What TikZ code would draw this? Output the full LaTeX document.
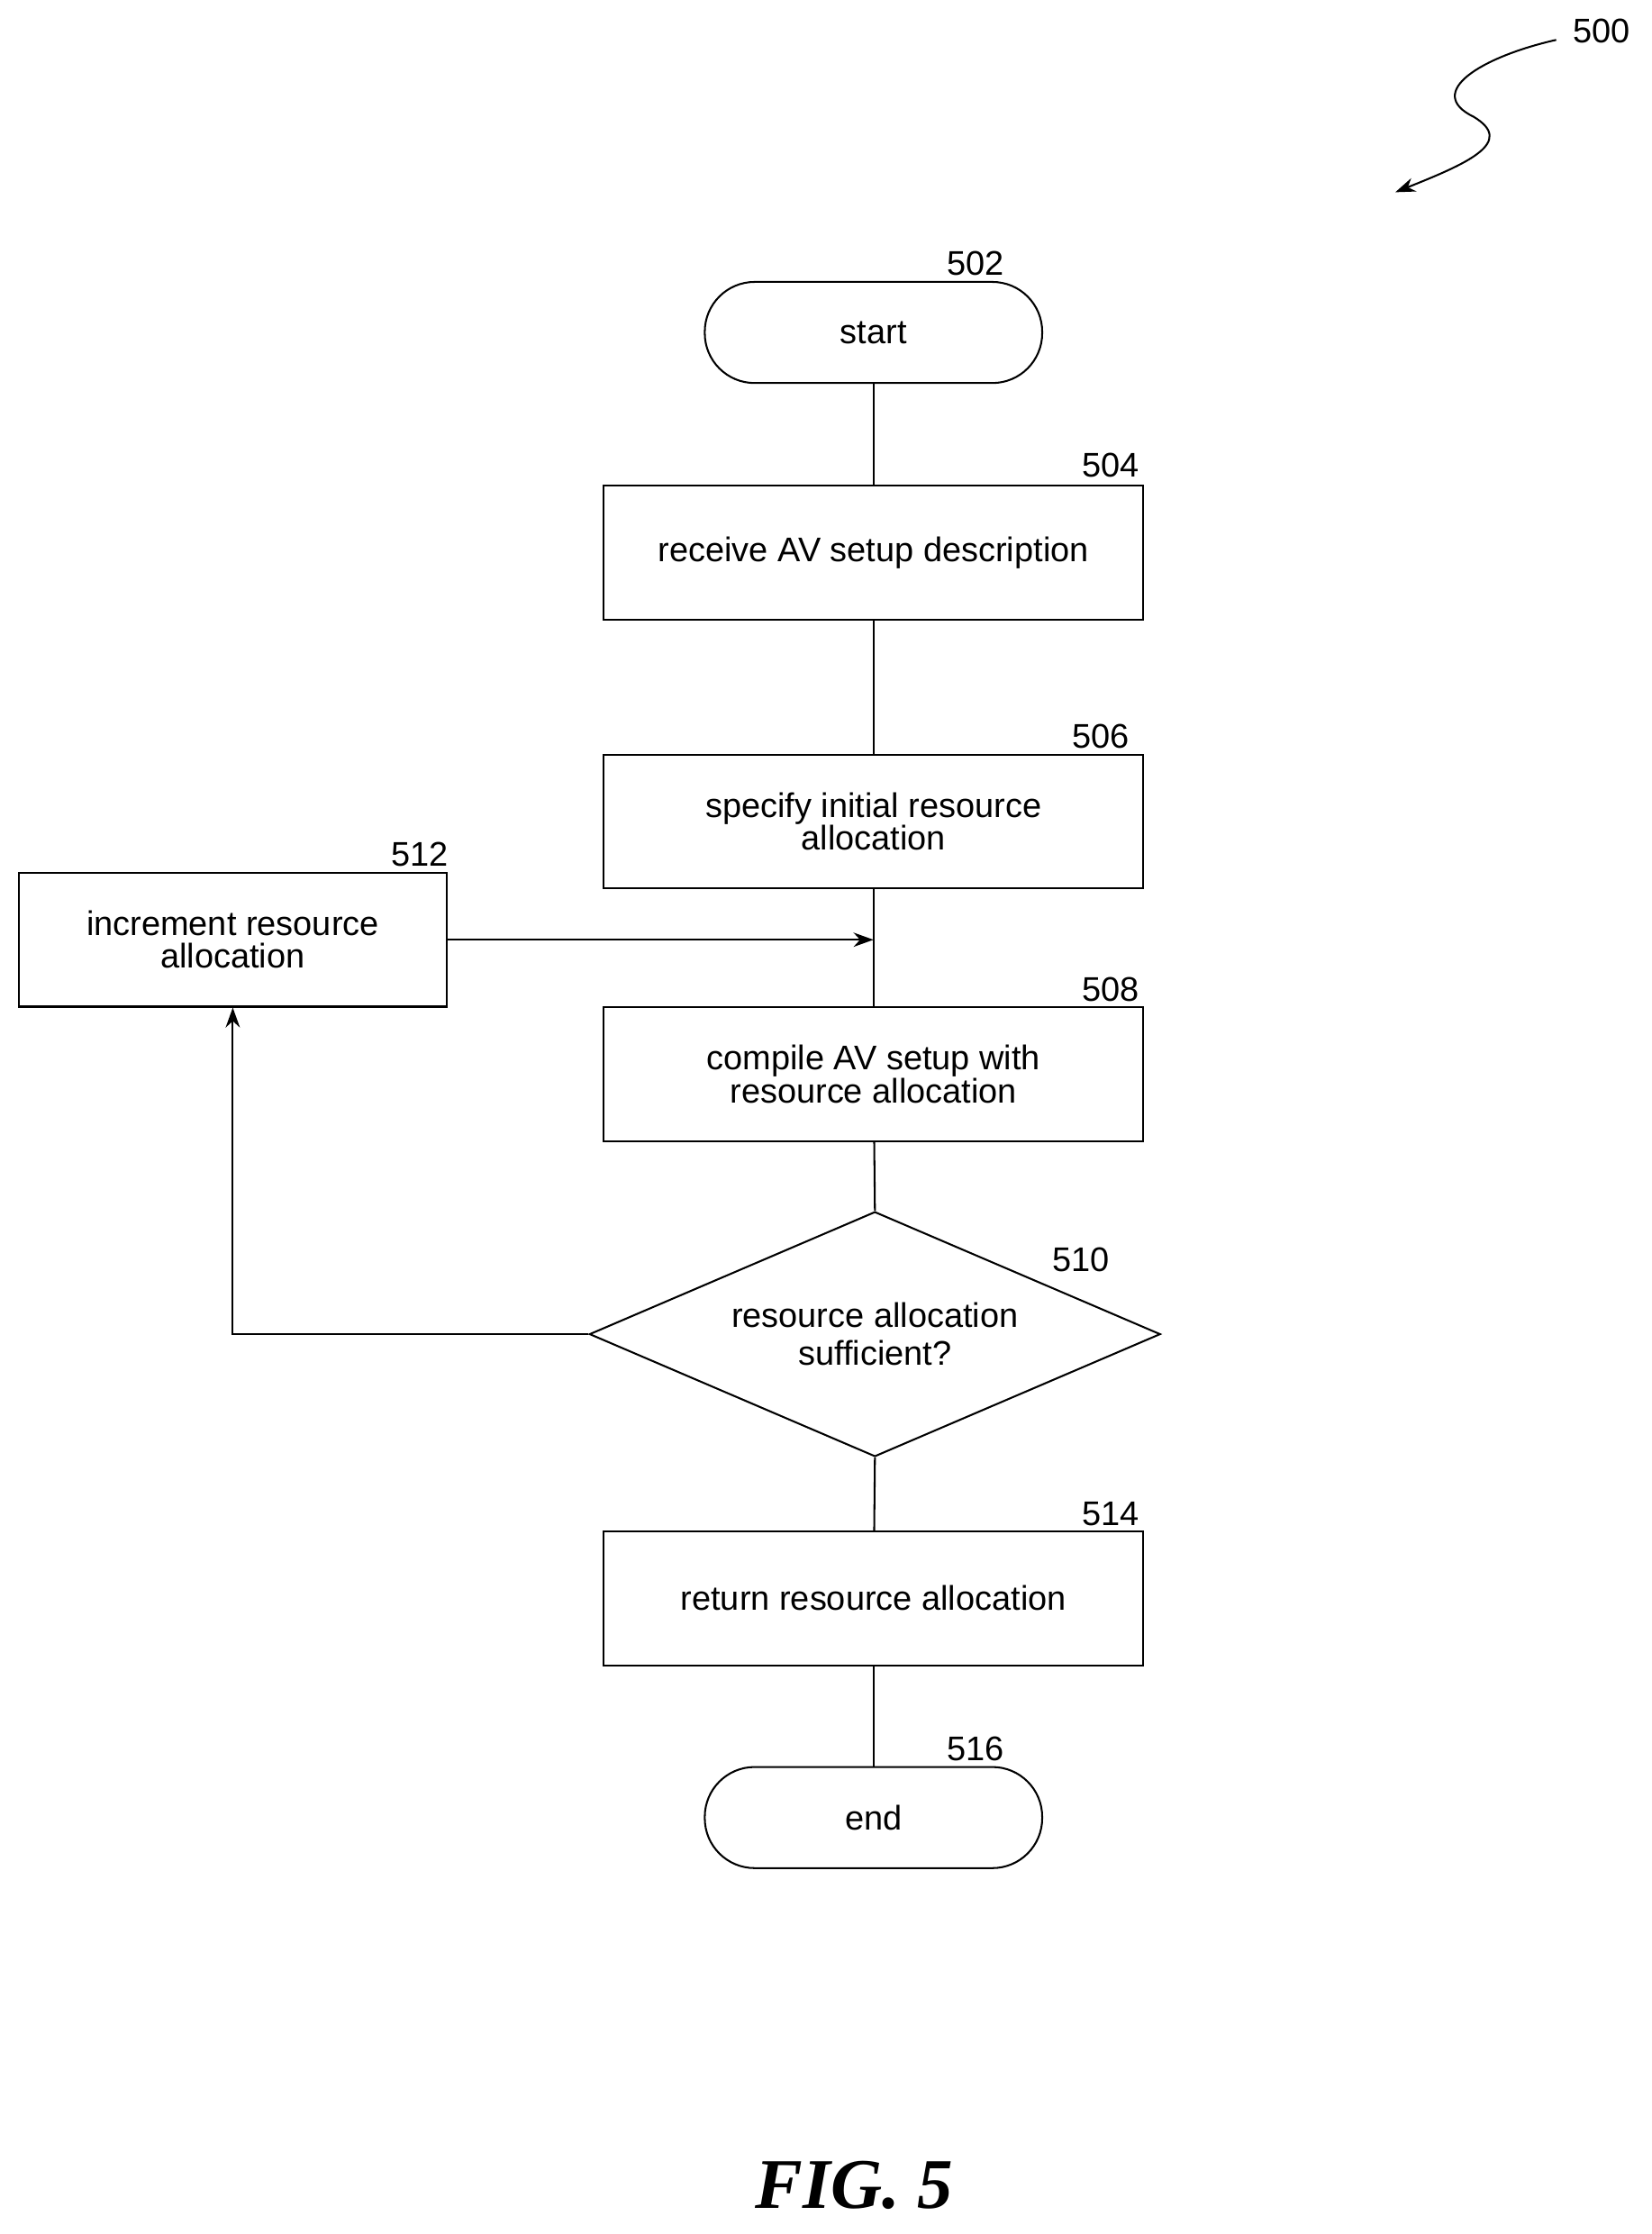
\documentclass[tikz,border=0pt]{standalone}
\usepackage{fontspec}
\setmainfont{Liberation Sans}
\newfontfamily\figfont{Liberation Serif}
\usetikzlibrary{shapes.geometric,arrows.meta}
\begin{document}
\begin{tikzpicture}[x=1pt,y=-1pt,
  every node/.style={font=\fontsize{24}{27}\selectfont},
  box/.style={draw,line width=1.3pt,minimum width=379pt,minimum height=94pt,align=center,inner sep=0pt},
  pill/.style={draw,line width=1.3pt,rounded corners=35pt,minimum width=237pt,minimum height=71pt},
  lbl/.style={font=\fontsize{24}{27}\selectfont},
  line/.style={line width=1.3pt},
  arr/.style={line width=1.3pt,-{Stealth[length=14pt,width=10pt]}}]
\useasboundingbox (0,0) rectangle (1160,1569);
\node[pill] (start) at (613.5,233.5) {start};
\node[box] (b504) at (613.5,388) {receive AV setup description};
\node[box] (b506) at (613.5,577) {specify initial resource\\[-4pt]allocation};
\node[box] (b508) at (613.5,754.5) {compile AV setup with\\[-4pt]resource allocation};
\node[box,minimum width=301pt] (b512) at (163.5,660) {increment resource\\[-4pt]allocation};
\node[draw,line width=1.3pt,diamond,minimum width=401pt,minimum height=172pt,inner sep=0pt,align=center,aspect=2.33] (d510) at (614.5,937) {resource allocation\\sufficient?};
\node[box] (b514) at (613.5,1122.5) {return resource allocation};
\node[pill] (end) at (613.5,1276.5) {end};
\node[lbl] (l502) at (685,185) {502};
\node[lbl] (l504) at (780,327) {504};
\node[lbl] (l506) at (773,517) {506};
\node[lbl] (l508) at (780,695) {508};
\node[lbl] (l512) at (295,600) {512};
\node[lbl] (l510) at (759,885) {510};
\node[lbl] (l514) at (780,1063) {514};
\node[lbl] (l516) at (685,1228) {516};
\node[lbl] (l500) at (1125,22) {500};
\node[font=\figfont\bfseries\itshape\fontsize{50}{55}\selectfont] (fig) at (600,1535) {FIG. 5};
\coordinate (join) at (613.5,660);
\coordinate (corner) at (163.5,937);
\draw[line] (start) -- (b504);
\draw[line] (b504) -- (b506);
\draw[line] (b506) -- (b508);
\draw[arr] (b512.east) -- (join);
\draw[line] (b508) -- (d510.north);
\draw[arr] (d510.west) -- (corner) -- (b512.south);
\draw[line] (d510.south) -- (b514);
\draw[line] (b514) -- (end);
\coordinate (s0) at (1093,28);
\coordinate (s1) at (980,135);
\draw[arr] (s0) .. controls (1040,40) and (1000,65) .. (1035,82) .. controls (1065,100) and (1030,115) .. (s1);
\end{tikzpicture}
\end{document}
